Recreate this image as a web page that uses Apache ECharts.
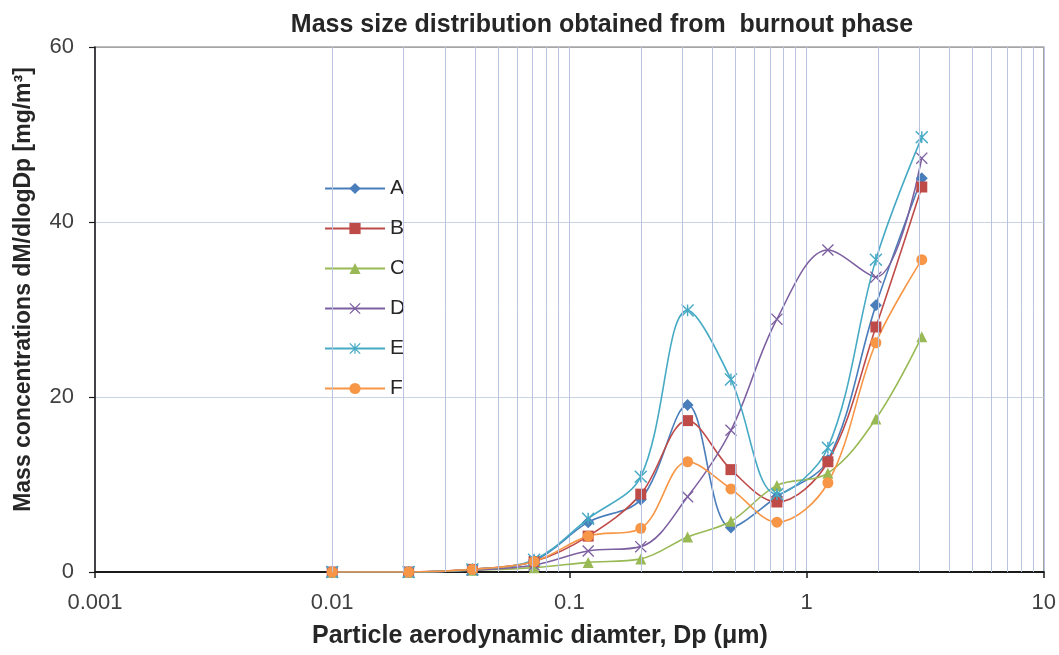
<!DOCTYPE html>
<html>
<head>
<meta charset="utf-8">
<script src="https://cdn.jsdelivr.net/npm/echarts@6/dist/echarts.min.js"></script>
<style>
html,body{margin:0;padding:0;background:#fff;}
#chart{width:1059px;height:655px;}
</style>
</head>
<body>
<div id="chart"></div>
<script>
const diameters = [0.01, 0.021, 0.039, 0.071, 0.12, 0.2, 0.315, 0.48, 0.75, 1.23, 1.96, 3.06];
const seriesA = [0, 0, 0.3, 1.3, 5.7, 8.3, 19.1, 5.1, 8.6, 12.8, 30.5, 45.0];
const seriesB = [0, 0, 0.3, 1.2, 4.1, 8.9, 17.3, 11.7, 8.0, 12.6, 28.0, 44.0];
const seriesC = [0, 0, 0.2, 0.5, 1.1, 1.5, 4.0, 5.8, 9.9, 11.3, 17.5, 26.9];
const seriesD = [0, 0, 0.2, 0.8, 2.4, 2.9, 8.6, 16.2, 28.9, 36.8, 33.7, 47.3];
const seriesE = [0, 0, 0.3, 1.4, 6.1, 10.9, 29.9, 22.0, 8.9, 14.2, 35.7, 49.7];
const seriesF = [0, 0, 0.3, 1.2, 4.1, 5.0, 12.6, 9.5, 5.7, 10.2, 26.2, 35.7];
const seriesNames = ['A', 'B', 'C', 'D', 'E', 'F'];
const yTicks = [0, 20, 40, 60];
const minorGridX = [0.002, 0.003, 0.004, 0.005, 0.006, 0.007, 0.008, 0.009,
                    0.02, 0.03, 0.04, 0.05, 0.06, 0.07, 0.08, 0.09,
                    0.2, 0.3, 0.4, 0.5, 0.6, 0.7, 0.8, 0.9,
                    2, 3, 4, 5, 6, 7, 8, 9];

const colors = ['#4a7ebb', '#be4b48', '#98b954', '#7d60a0', '#46aac5', '#f79646'];
const xPath = 'path://M10,8.3 L19.15,-0.85 L20.85,0.85 L11.7,10 L20.85,19.15 L19.15,20.85 L10,11.7 L0.85,20.85 L-0.85,19.15 L8.3,10 L-0.85,0.85 L0.85,-0.85 Z';
const starPath = 'path://M8.8,0 L11.2,0 L11.2,7.1 L19.15,-0.85 L20.85,0.85 L11.7,10 L20.85,19.15 L19.15,20.85 L11.2,12.9 L11.2,20 L8.8,20 L8.8,12.9 L0.85,20.85 L-0.85,19.15 L8.3,10 L-0.85,0.85 L0.85,-0.85 L8.8,7.1 Z';
const symbols = ['diamond', 'rect', 'triangle', xPath, starPath, 'circle'];
const symbolSizes = [12, 11, 11, 12, 13, 11];
const values = [seriesA, seriesB, seriesC, seriesD, seriesE, seriesF];

const gridColor = '#b9c3e2';
const fontMain = '"Liberation Sans", Arial, sans-serif';

const series = values.map((vals, i) => ({
  name: seriesNames[i],
  type: 'line',
  smooth: 0.35,
  z: 3,
  symbol: symbols[i],
  symbolSize: symbolSizes[i],
  showAllSymbol: true,
  lineStyle: { color: colors[i], width: 1.6 },
  itemStyle: { color: colors[i] },
  data: diameters.map((d, j) => [d, vals[j]])
}));

series.unshift({
  name: 'minor-grid',
  type: 'line',
  z: 1,
  silent: true,
  data: [],
  markLine: {
    silent: true,
    animation: false,
    symbol: ['none', 'none'],
    label: { show: false },
    lineStyle: { color: gridColor, width: 1, type: 'solid' },
    emphasis: { disabled: true },
    data: minorGridX.map(v => ({ xAxis: v }))
  }
});

const chart = echarts.init(document.getElementById('chart'), null, { renderer: 'canvas' });
chart.setOption({
  animation: false,
  backgroundColor: '#ffffff',
  title: {
    text: 'Mass size distribution obtained from  burnout phase',
    left: 597,
    top: 8,
    textAlign: 'center',
    textStyle: {
      fontFamily: fontMain,
      fontWeight: 'bold',
      fontSize: 25,
      color: '#262626'
    }
  },
  legend: {
    data: seriesNames,
    orient: 'vertical',
    left: 324,
    top: 178,
    padding: 0,
    itemWidth: 60,
    itemHeight: 14,
    itemGap: 19,
    textStyle: { fontFamily: fontMain, fontSize: 21, color: '#262626' }
  },
  grid: {
    left: 95,
    right: 15,
    top: 47,
    bottom: 83,
    show: true,
    borderColor: '#a6a6a6',
    borderWidth: 1.5,
    backgroundColor: 'transparent',
    containLabel: false
  },
  xAxis: {
    type: 'log',
    logBase: 10,
    min: 0.001,
    max: 10,
    name: 'Particle aerodynamic diamter, Dp (\u03bcm)',
    nameLocation: 'middle',
    nameGap: 52,
    nameTextStyle: {
      fontFamily: fontMain,
      fontWeight: 'bold',
      fontSize: 25,
      color: '#262626',
      padding: [0, 59, 0, 0]
    },
    axisLine: { show: true, onZero: false, lineStyle: { color: '#1a1a1a', width: 2 } },
    axisTick: { show: true, inside: false, length: 6, lineStyle: { color: '#1a1a1a', width: 1.5 } },
    axisLabel: {
      margin: 20,
      fontFamily: fontMain,
      fontSize: 22,
      color: '#404040',
      formatter: v => String(v)
    },
    splitLine: { show: true, lineStyle: { color: gridColor, width: 1 } },
    minorTick: { show: false },
    minorSplitLine: { show: false }
  },
  yAxis: {
    type: 'value',
    min: yTicks[0],
    max: yTicks[yTicks.length - 1],
    interval: yTicks[1] - yTicks[0],
    name: 'Mass concentrations dM/dlogDp [mg/m\u00b3]',
    nameLocation: 'middle',
    nameGap: 60,
    nameRotate: 90,
    nameTextStyle: {
      fontFamily: fontMain,
      fontWeight: 'bold',
      fontSize: 23,
      color: '#262626',
      padding: [0, 0, 0, 40]
    },
    axisLine: { show: true, lineStyle: { color: '#1a1a1a', width: 1.5 } },
    axisTick: { show: true, inside: false, length: 6, lineStyle: { color: '#1a1a1a', width: 1.2 } },
    axisLabel: {
      margin: 21,
      fontFamily: fontMain,
      fontSize: 22,
      color: '#404040'
    },
    splitLine: { show: true, lineStyle: { color: ['#c9d3e4', '#c9d3e4', '#c9d3e4', '#a6a6a6'], width: 1 } }
  },
  series: series
});
</script>
</body>
</html>
